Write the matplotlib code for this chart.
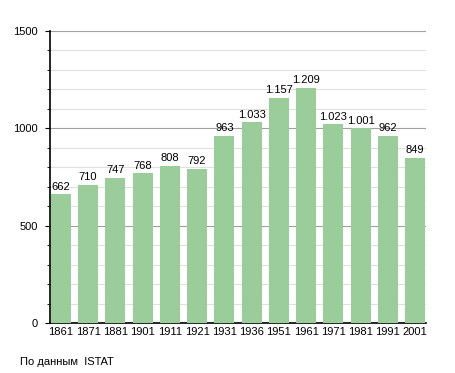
import matplotlib.pyplot as plt
from matplotlib.ticker import MultipleLocator

years = ["1861", "1871", "1881", "1901", "1911", "1921", "1931",
         "1936", "1951", "1961", "1971", "1981", "1991", "2001"]
population = [662, 710, 747, 768, 808, 792, 963,
              1033, 1157, 1209, 1023, 1001, 962, 849]


def fmt(v):
    # thousands separator as in the source (dot)
    return f"{v:,}".replace(",", ".")


plt.rcParams['font.family'] = ['Liberation Sans', 'DejaVu Sans']

fig = plt.figure(figsize=(4.55, 3.73), dpi=100)
ax = fig.add_axes([50 / 455, 1 - 323 / 373, 376 / 455, 292 / 373])

x = range(len(years))
ax.bar(x, population, width=0.73, color='#9acd9a', zorder=3)

for i, v in enumerate(population):
    ax.text(i, v + 12, fmt(v), ha='center', va='bottom', fontsize=8, zorder=4)

ax.set_xlim(-0.4, 13.4)
ax.set_ylim(0, 1500)
ax.yaxis.set_major_locator(MultipleLocator(500))
ax.yaxis.set_minor_locator(MultipleLocator(100))
ax.grid(which='minor', axis='y', color='#e0e0e0', linewidth=0.8, zorder=0)
ax.grid(which='major', axis='y', color='#a0a0a0', linewidth=0.8, zorder=0)

ax.set_xticks(list(x))
ax.set_xticklabels(years, fontsize=8)
ax.tick_params(axis='x', length=0, pad=3)
ax.tick_params(axis='y', which='major', length=3.6, labelsize=8, pad=5)
ax.tick_params(axis='y', which='minor', length=2)

for side in ['top', 'right']:
    ax.spines[side].set_visible(False)
ax.spines['left'].set_linewidth(1.2)
ax.spines['bottom'].set_linewidth(1.2)

fig.text(20 / 455, 1 - 362 / 373, "По данным  ISTAT", fontsize=8, va='center')

fig.savefig("out.png", dpi=100)
